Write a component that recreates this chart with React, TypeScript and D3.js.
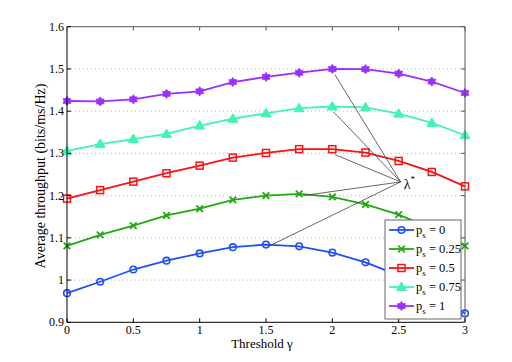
import React from "react";
import * as d3 from "d3";

const thresholds = [0, 0.25, 0.5, 0.75, 1, 1.25, 1.5, 1.75, 2, 2.25, 2.5, 2.75, 3];
const ps0 = [0.969, 0.996, 1.025, 1.046, 1.063, 1.078, 1.084, 1.08, 1.065, 1.042, 1.011, 0.972, 0.921];
const ps025 = [1.081, 1.107, 1.129, 1.153, 1.169, 1.19, 1.2, 1.204, 1.197, 1.179, 1.155, 1.122, 1.081];
const ps05 = [1.193, 1.213, 1.233, 1.253, 1.271, 1.29, 1.301, 1.31, 1.31, 1.302, 1.282, 1.256, 1.222];
const ps075 = [1.306, 1.322, 1.334, 1.346, 1.366, 1.382, 1.395, 1.407, 1.411, 1.409, 1.394, 1.372, 1.343];
const ps1 = [1.424, 1.423, 1.428, 1.441, 1.447, 1.469, 1.481, 1.491, 1.5, 1.4995, 1.489, 1.47, 1.443];

const seriesNames = ["0", "0.25", "0.5", "0.75", "1"];
const seriesColors = ["#2050f5", "#22a812", "#ff1010", "#40f5b0", "#9a30ff"];
const seriesMarkers = ["circle", "x", "square", "triangle", "hexagram"];
const seriesValues = [ps0, ps025, ps05, ps075, ps1];

const xTicks = [0, 0.5, 1, 1.5, 2, 2.5, 3];
const yTicks = [0.9, 1, 1.1, 1.2, 1.3, 1.4, 1.5, 1.6];
const gridTicks = [1, 1.1, 1.2, 1.3, 1.4, 1.5];

const annotStarts: [number, number][] = [
  [2.02, 1.486],
  [2.01, 1.398],
  [2.02, 1.297],
  [1.78, 1.2],
  [1.52, 1.08],
];
const annotTip: [number, number] = [2.5, 1.2325];

function Marker({ type, x, y, color }: { type: string; x: number; y: number; color: string }) {
  if (type === "circle") {
    return <circle cx={x} cy={y} r={3.3} fill="none" stroke={color} strokeWidth={1.6} />;
  }
  if (type === "x") {
    const s = 3.3;
    return (
      <path
        d={`M${x - s},${y - s}L${x + s},${y + s}M${x - s},${y + s}L${x + s},${y - s}`}
        stroke={color}
        strokeWidth={1.8}
      />
    );
  }
  if (type === "square") {
    const s = 3.5;
    return <rect x={x - s} y={y - s} width={2 * s} height={2 * s} fill="none" stroke={color} strokeWidth={1.5} />;
  }
  if (type === "triangle") {
    const s = 5;
    return (
      <path
        d={`M${x},${y - s}L${x + s},${y + s * 0.7}L${x - s},${y + s * 0.7}Z`}
        fill={color}
        stroke={color}
        strokeWidth={1}
      />
    );
  }
  const pts: string[] = [];
  const ro = 4.6, ri = 2.9;
  for (let i = 0; i < 12; i++) {
    const a = (Math.PI / 6) * i - Math.PI / 2;
    const r = i % 2 === 0 ? ro : ri;
    pts.push(`${x + r * Math.cos(a)},${y + r * Math.sin(a)}`);
  }
  return <polygon points={pts.join(" ")} fill={color} stroke={color} strokeWidth={0.8} />;
}

export default function App() {
  const W = 512, H = 362;
  const left = 67, right = 465, top = 26.7, bottom = 322.3;
  const x = d3.scaleLinear().domain([0, 3]).range([left, right]);
  const y = d3.scaleLinear().domain([0.9, 1.6]).range([bottom, top]);
  const line = d3
    .line<number>()
    .x((_, i) => x(thresholds[i]))
    .y((d) => y(d));
  const fontStyle = { fontFamily: '"Liberation Serif", "Times New Roman", Times, serif' };
  const tickLen = 4;

  const legX = 385, legY = 220, legW = 76, legH = 99;
  const legRow = 19;

  return (
    <div style={{ position: "absolute", left: 0, top: 0 }}>
      <svg width={W} height={H} style={{ display: "block", background: "#fff" }}>
        <rect x={0} y={0} width={W} height={H} fill="#fff" />
        {gridTicks.map((t) => (
          <line
            key={"g" + t}
            x1={left}
            x2={right}
            y1={y(t)}
            y2={y(t)}
            stroke="#b8b8b8"
            strokeWidth={1}
            strokeDasharray="1,3"
          />
        ))}
        {seriesValues.map((vals, si) => (
          <g key={"s" + si}>
            <path d={line(vals) || ""} fill="none" stroke={seriesColors[si]} strokeWidth={1.8} />
            {vals.map((v, i) => (
              <Marker key={i} type={seriesMarkers[si]} x={x(thresholds[i])} y={y(v)} color={seriesColors[si]} />
            ))}
          </g>
        ))}
        {annotStarts.map((p, i) => (
          <line
            key={"a" + i}
            x1={x(p[0])}
            y1={y(p[1])}
            x2={x(annotTip[0]) + 2}
            y2={y(annotTip[1])}
            stroke="#404040"
            strokeWidth={0.8}
          />
        ))}
        <g style={fontStyle}>
          <text x={x(annotTip[0]) + 5} y={y(annotTip[1]) + 7} fontSize={14} fill="#000">
            λ
            <tspan dy={-7} fontSize={9}>*</tspan>
          </text>
          <line x1={left} x2={right} y1={top} y2={top} stroke="#555" strokeWidth={1} />
          <line x1={right} x2={right} y1={top} y2={bottom} stroke="#555" strokeWidth={1} />
          <line x1={left} x2={left} y1={top} y2={bottom} stroke="#000" strokeWidth={1} />
          <line x1={left} x2={right} y1={bottom} y2={bottom} stroke="#000" strokeWidth={1} />
          {xTicks.map((t) => (
            <g key={"xt" + t}>
              <line x1={x(t)} x2={x(t)} y1={bottom} y2={bottom - tickLen} stroke="#000" />
              <line x1={x(t)} x2={x(t)} y1={top} y2={top + tickLen} stroke="#555" />
              <text x={x(t)} y={bottom + 11.5} textAnchor="middle" fontSize={12} fill="#000">
                {t}
              </text>
            </g>
          ))}
          {yTicks.map((t) => (
            <g key={"yt" + t}>
              <line x1={left} x2={left + tickLen} y1={y(t)} y2={y(t)} stroke="#000" />
              <line x1={right} x2={right - tickLen} y1={y(t)} y2={y(t)} stroke="#555" />
              <text x={left - 3} y={y(t) + 4} textAnchor="end" fontSize={12} fill="#000">
                {t === 1 ? "1" : t.toFixed(1)}
              </text>
            </g>
          ))}
          <text x={262} y={348} textAnchor="middle" fontSize={13} fill="#000">
            Threshold γ
          </text>
          <text
            transform={`translate(${45},${176}) rotate(-90)`}
            textAnchor="middle"
            fontSize={14}
            fill="#000"
          >
            Average throughput (bits/ms/Hz)
          </text>
          <rect x={legX} y={legY} width={legW} height={legH} fill="#fff" stroke="#666" strokeWidth={1} />
          {seriesNames.map((n, i) => {
            const cy = legY + 10 + i * legRow;
            return (
              <g key={"l" + i}>
                <line x1={legX + 4} x2={legX + 29} y1={cy} y2={cy} stroke={seriesColors[i]} strokeWidth={1.8} />
                <Marker type={seriesMarkers[i]} x={legX + 16.5} y={cy} color={seriesColors[i]} />
                <text x={legX + 31} y={cy + 4} fontSize={12.5} fill="#000">
                  p<tspan dy={4} fontSize={9}>s</tspan>
                  <tspan dy={-4}> = {n}</tspan>
                </text>
              </g>
            );
          })}
        </g>
      </svg>
    </div>
  );
}
